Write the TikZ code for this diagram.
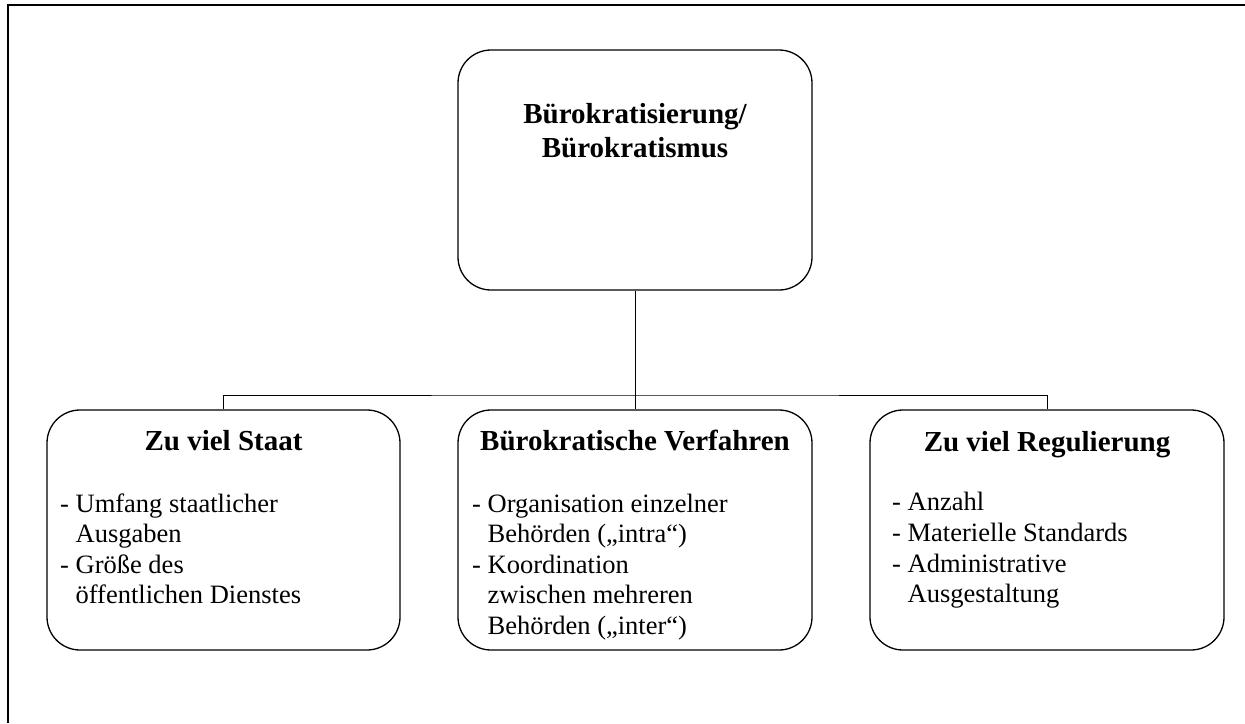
\documentclass[tikz,border=0pt]{standalone}
\usepackage{fontspec}
\setmainfont{Liberation Serif}
\begin{document}
\begin{tikzpicture}[x=1pt,y=-1pt,
  frameline/.style={line width=2pt},
  box/.style={draw, line width=1.3pt, rounded corners=33pt, inner sep=0pt,
              minimum width=354pt, minimum height=240pt},
  conn/.style={line width=1pt},
  head/.style={font=\fontsize{29}{34}\selectfont\bfseries, anchor=base, inner sep=0pt},
  body/.style={font=\fontsize{26.5}{30.5}\selectfont, anchor=base west, inner sep=0pt}]
\useasboundingbox (0,0) rectangle (1245,723);
% frame (left and top edges only)
\coordinate (fBL) at (8,723);
\coordinate (fTL) at (8,5);
\coordinate (fTR) at (1245,5);
\draw[frameline] (fBL) -- (fTL) -- (fTR);
% boxes
\node[box] (top) at (635,170) {};
\node[box, minimum width=353pt] (b1) at (223.5,530) {};
\node[box] (b2) at (635,530) {};
\node[box] (b3) at (1047,530) {};
% connectors
\coordinate (bus) at (635,395);
\draw[conn] (top.south) -- (b2.north);
\draw[conn] (b1.north) |- (bus) -| (b3.north);
% title
\node[head] (t1) at (635,123) {Bürokratisierung/};
\node[head] (t2) at (635,157) {Bürokratismus};
% headings
\node[head] (h1) at (223.5,450) {Zu viel Staat};
\node[head] (h2) at (635,450) {Bürokratische Verfahren};
\node[head] (h3) at (1047,451) {Zu viel Regulierung};
% box 1
\node[body] (a1) at (60,512) {- Umfang staatlicher};
\node[body] (a2) at (60,542) {\phantom{- }Ausgaben};
\node[body] (a3) at (60,573) {- Größe des};
\node[body] (a4) at (60,603) {\phantom{- }öffentlichen Dienstes};
% box 2
\node[body] (m1) at (472,512) {- Organisation einzelner};
\node[body] (m2) at (472,542) {\phantom{- }Behörden („intra“)};
\node[body] (m3) at (472,573) {- Koordination};
\node[body] (m4) at (472,603) {\phantom{- }zwischen mehreren};
\node[body] (m5) at (472,634) {\phantom{- }Behörden („inter“)};
% box 3
\node[body] (r1) at (892,510) {- Anzahl};
\node[body] (r2) at (892,541) {- Materielle Standards};
\node[body] (r3) at (892,572) {- Administrative};
\node[body] (r4) at (892,602) {\phantom{- }Ausgestaltung};
\end{tikzpicture}
\end{document}
